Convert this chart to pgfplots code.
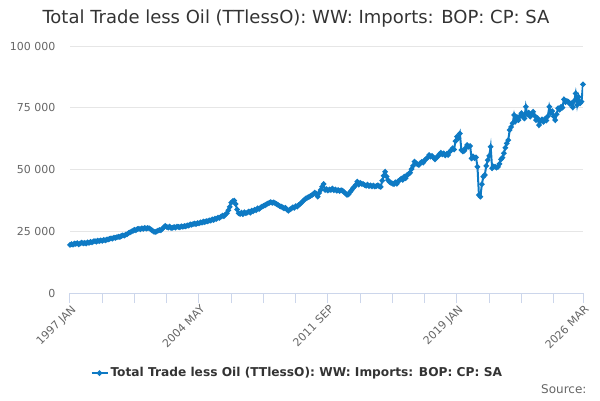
\documentclass[border=0pt]{standalone}
\usepackage{fontspec}
\setmainfont{DejaVu Sans}
\usepackage{pgfplots}
\pgfplotsset{compat=1.18}
\definecolor{series}{RGB}{14,122,196}
\definecolor{axisline}{HTML}{CCD6EB}
\definecolor{gridc}{HTML}{E6E6E6}
\definecolor{ticklab}{HTML}{666666}
\definecolor{titlec}{HTML}{333333}
\begin{document}
\begin{tikzpicture}[x=1pt,y=1pt]
\useasboundingbox (0,0) rectangle (600,400);
\node[font=\fontsize{18}{22}\selectfont, text=titlec] at (296,381) {Total Trade less Oil (TTlessO): WW: Imports: BOP: CP: SA};
\node[anchor=east, font=\fontsize{12}{14}\selectfont, text=ticklab] at (590,11) {Source:};
\begin{axis}[
  at={(70pt,107pt)}, anchor=south west,
  scale only axis, width=513pt, height=247pt,
  xmin=0, xmax=350, ymin=0, ymax=100000,
  scaled y ticks=false,
  axis x line*=bottom, axis y line*=left,
  x axis line style={axisline, line width=1pt},
  y axis line style={draw=none},
  tick align=outside,
  major tick length=10pt, minor tick length=10pt,
  x tick style={axisline, line width=1pt},
  minor x tick style={axisline, line width=1pt},
  y tick style={draw=none},
  ymajorgrids, grid style={gridc, line width=1pt},
  ytick={0,25000,50000,75000,100000},
  yticklabels={0,25 000,50 000,75 000,100 000},
  xtick={0,88,176,264,350},
  minor xtick={22,44,66,110,132,154,198,220,242,286,308,330},
  xticklabels={1997 JAN,2004 MAY,2011 SEP,2019 JAN,2026 MAR},
  yticklabel style={font=\fontsize{11}{13}\selectfont, text=ticklab, anchor=east, xshift=-1pt},
  xticklabel style={font=\fontsize{11}{13}\selectfont, text=ticklab, rotate=45, anchor=north east, xshift=3pt, yshift=2pt},
  legend style={at={(0.443,-0.324)}, anchor=center, draw=none, fill=none,
    font=\bfseries\fontsize{12.2}{14}\selectfont, text=titlec},
  legend image code/.code={\draw[mark repeat=2,mark phase=2] plot coordinates {(0pt,0pt) (8pt,0pt) (16pt,0pt)};},
]
\addplot[series, line width=2pt, mark=*, mark size=1.6pt, mark options={series}] coordinates {
(0,19500)(1,19800)(2,19600)(3,20000)(4,19900)(5,20200)(6,19700)(7,20100)(8,20400)(9,20100)
(10,20300)(11,20000)(12,20500)(13,20300)(14,20700)(15,20500)(16,20900)(17,21000)(18,20800)(19,21200)
(20,21000)(21,21300)(22,21100)(23,21500)(24,21300)(25,21600)(26,21700)(27,21900)(28,22100)(29,22000)
(30,22400)(31,22300)(32,22600)(33,22800)(34,22700)(35,23100)(36,23300)(37,23200)(38,23600)(39,23800)
(40,24300)(41,24600)(42,24900)(43,25200)(44,25600)(45,25400)(46,25900)(47,26000)(48,25800)(49,26200)
(50,26000)(51,26400)(52,26100)(53,26300)(54,26200)(55,25800)(56,25300)(57,24900)(58,24700)(59,24900)
(60,25200)(61,25500)(62,25400)(63,26000)(64,26600)(65,27200)(66,26800)(67,26500)(68,26900)(69,26300)
(70,26400)(71,26700)(72,26500)(73,26900)(74,26800)(75,26600)(76,27000)(77,26800)(78,27100)(79,27000)
(80,27400)(81,27300)(82,27800)(83,27600)(84,27900)(85,28100)(86,27900)(87,28300)(88,28200)(89,28600)
(90,28500)(91,28900)(92,28700)(93,29100)(94,29000)(95,29400)(96,29300)(97,29800)(98,29600)(99,30100)
(100,30000)(101,30500)(102,30400)(103,30900)(104,31300)(105,31100)(106,31800)(107,32300)(108,33500)(109,34900)
(110,36600)(111,37200)(112,37400)(113,36000)(114,33800)(115,32300)(116,32000)(117,32500)(118,31900)(119,32700)
(120,32300)(121,32600)(122,33000)(123,32500)(124,33300)(125,33100)(126,33700)(127,33500)(128,34300)(129,34000)
(130,34600)(131,35000)(132,35300)(133,35500)(134,35900)(135,36200)(136,36500)(137,36800)(138,36500)(139,36700)
(140,36300)(141,36000)(142,35600)(143,35200)(144,35000)(145,34700)(146,34300)(147,34500)(148,33800)(149,33300)
(150,33800)(151,34200)(152,34700)(153,34500)(154,35200)(155,35000)(156,35600)(157,36000)(158,36600)(159,37200)
(160,37800)(161,38300)(162,38600)(163,38900)(164,39300)(165,39600)(166,40100)(167,40600)(168,40200)(169,39000)
(170,40500)(171,41700)(172,43000)(173,44100)(174,41700)(175,42000)(176,41500)(177,41900)(178,41700)(179,42300)
(180,41600)(181,41900)(182,41400)(183,41700)(184,41300)(185,41600)(186,41400)(187,40800)(188,40300)(189,39700)
(190,39900)(191,40800)(192,41500)(193,42400)(194,43000)(195,43800)(196,45100)(197,43900)(198,44600)(199,44200)
(200,44100)(201,43700)(202,43400)(203,43900)(204,43300)(205,43600)(206,43200)(207,43500)(208,43100)(209,43300)
(210,43600)(211,43200)(212,43000)(213,45500)(214,47500)(215,49100)(216,47200)(217,45700)(218,45000)(219,44600)
(220,44300)(221,44100)(222,44800)(223,44200)(224,45300)(225,45700)(226,46300)(227,45800)(228,47100)(229,46500)
(230,47800)(231,48200)(232,48700)(233,50200)(234,51500)(235,53200)(236,52600)(237,52100)(238,51800)(239,52600)
(240,53100)(241,52800)(242,53800)(243,54300)(244,54900)(245,55900)(246,55200)(247,55500)(248,54800)(249,54100)
(250,54900)(251,55300)(252,56200)(253,56800)(254,56100)(255,56500)(256,55700)(257,56300)(258,55900)(259,57200)
(260,57800)(261,58600)(262,58100)(263,61500)(264,63300)(265,62700)(266,64600)(267,57900)(268,57300)(269,57600)
(270,58700)(271,59900)(272,59200)(273,59500)(274,54500)(275,55300)(276,54600)(277,54900)(278,51100)(279,39700)
(280,39000)(281,44000)(282,47100)(283,47800)(284,51500)(285,53800)(286,55500)(287,59200)(288,50500)(289,51200)
(290,51100)(291,50800)(292,51100)(293,52300)(294,54100)(295,54800)(296,56600)(297,58800)(298,60600)(299,61900)
(300,66000)(301,67200)(302,68700)(303,72100)(304,69500)(305,71200)(306,70000)(307,71600)(308,72800)(309,71500)
(310,70700)(311,75400)(312,72300)(313,73000)(314,71400)(315,72500)(316,73400)(317,71800)(318,70000)(319,70800)
(320,68000)(321,69500)(322,70300)(323,69300)(324,70400)(325,69800)(326,71500)(327,75400)(328,72800)(329,73600)
(330,71500)(331,70000)(332,72400)(333,74800)(334,74200)(335,75400)(336,75100)(337,78400)(338,77300)(339,77700)
(340,77400)(341,76500)(342,76800)(343,75200)(344,77800)(345,80800)(346,76100)(347,79400)(348,76800)(349,77500)
(350,84500)
};
\addlegendentry{Total Trade less Oil (TTlessO): WW: Imports: BOP: CP: SA}
\end{axis}
\end{tikzpicture}
\end{document}
